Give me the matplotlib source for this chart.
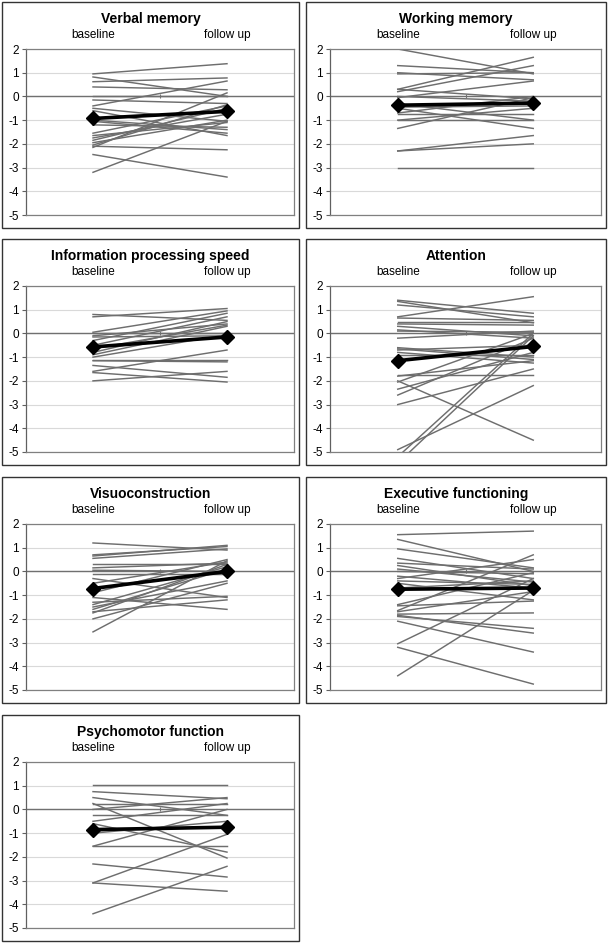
import matplotlib
matplotlib.use("Agg")
import matplotlib.pyplot as plt
from matplotlib.patches import Rectangle

plt.rcParams["font.family"] = ["Liberation Sans", "DejaVu Sans"]
plt.rcParams["axes.unicode_minus"] = False

W, H = 609, 943
categories = ["baseline", "follow up"]
titles = [
    "Verbal memory",
    "Working memory",
    "Information processing speed",
    "Attention",
    "Visuoconstruction",
    "Executive functioning",
    "Psychomotor function",
]

# individual patients: baseline / follow-up z-scores per domain
verbal_base = [0.95, 0.82, 0.62, 0.40, 0.0, -0.15, -0.4, -0.5, -0.6, -1.0, -1.05,
               -1.2, -1.55, -1.65, -1.75, -1.85, -1.95, -2.05, -2.1, -2.15, -2.45, -3.2]
verbal_fu = [1.38, 0.0, 0.78, 0.28, 0.0, -0.3, 0.65, -1.05, -1.65, -1.4, -1.55,
             -1.3, -0.4, -1.1, -0.75, -0.5, -1.0, -0.35, -2.25, 0.15, -3.4, -1.05]

working_base = [2.0, 1.3, 1.0, 0.95, 0.3, 0.3, 0.2, 0.0, -0.05, -0.3, -0.45,
                -0.5, -0.7, -0.75, -1.0, -1.0, -1.35, -2.3, -2.3, -3.0]
working_fu = [0.95, 1.0, 0.7, 1.0, 1.65, -0.1, 1.3, -0.2, 0.65, -1.0, -0.4,
              -1.35, 0.0, -0.75, -1.0, -0.5, -0.05, -1.65, -2.0, -3.0]

speed_base = [0.8, 0.7, 0.05, 0.0, -0.1, -0.15, -0.3, -0.5, -0.65, -0.8, -0.9,
              -1.0, -1.1, -1.15, -1.35, -1.6, -1.65, -2.0]
speed_fu = [0.55, 1.05, 0.95, 0.0, 0.4, -0.1, 0.85, 0.7, 0.35, 0.5, 0.3,
            -0.05, -1.1, -1.2, -1.85, -0.7, -2.05, -1.6]

attention_base = [1.4, 1.35, 1.2, 0.7, 0.65, 0.5, 0.4, 0.3, 0.15, 0.1, -0.2, -0.6, -0.65,
                  -0.7, -0.8, -0.9, -1.75, -1.8, -2.0, -2.05, -2.35, -2.6, -3.0, -4.9, -5.2, -5.47]
attention_fu = [0.85, 0.45, 0.7, 1.55, 0.55, 0.5, 0.35, -0.1, -0.2, 0.05, 0.1, -1.0, -1.1,
                -0.5, -1.25, -0.9, -1.75, -1.15, -4.5, 0.0, -0.8, -0.2, -1.5, -2.2, 0.0, -0.1]

visuo_base = [1.2, 0.7, 0.65, 0.55, 0.3, 0.15, 0.05, -0.1, -0.3, -0.5, -0.9,
              -1.1, -1.3, -1.4, -1.5, -1.6, -1.7, -1.75, -2.0, -2.55]
visuo_fu = [0.9, 1.05, 1.1, 0.95, 0.3, 0.35, 0.0, -0.1, -1.1, 0.4, 0.5,
            -1.6, -1.05, 0.2, -0.4, 0.1, -1.2, 0.3, -0.5, 0.45]

exec_base = [1.55, 1.35, 0.95, 0.55, 0.35, 0.25, 0.1, 0.0, -0.2, -0.3, -0.4, -0.5,
             -0.7, -1.4, -1.45, -1.65, -1.7, -1.8, -1.9, -1.85, -2.1, -3.05, -3.2, -4.4]
exec_fu = [1.7, 0.0, 0.15, -0.3, 0.1, -0.6, -0.45, -0.1, -0.7, 0.5, -0.55, -1.2,
           -0.4, -0.05, -1.25, 0.7, -0.85, -1.75, -2.4, -2.6, -3.4, -0.3, -4.75, -0.8]

psycho_base = [1.05, 0.75, 0.5, 0.25, 0.25, 0.0, -0.25, -0.5, -0.6, -0.9, -1.0,
               -1.55, -1.55, -2.3, -3.1, -3.1, -4.4]
psycho_fu = [1.05, 0.45, -0.25, -2.05, 0.25, 0.5, -0.25, 0.25, -1.8, -0.75, -0.5,
             0.0, -1.55, -2.85, -1.05, -3.45, -2.4]

# group means (thick black line)
mean_base = [-0.93, -0.37, -0.57, -1.15, -0.72, -0.75, -0.85]
mean_fu = [-0.63, -0.28, -0.15, -0.55, 0.0, -0.7, -0.75]

base_sets = [verbal_base, working_base, speed_base, attention_base, visuo_base, exec_base, psycho_base]
fu_sets = [verbal_fu, working_fu, speed_fu, attention_fu, visuo_fu, exec_fu, psycho_fu]

# panel frame origins in pixels (left, top)
frame_x = [2, 306]
frame_w = [297, 300]
frame_y = [2, 239, 477, 715]
frame_h = 226

fig = plt.figure(figsize=(W / 100, H / 100), dpi=100)
fig.patch.set_facecolor("white")


def fx(x):
    return x / W


def fy(y):
    return 1 - y / H


for i, title in enumerate(titles):
    col, row = i % 2, i // 2
    x0, y0, w = frame_x[col], frame_y[row], frame_w[col]
    fig.add_artist(Rectangle((fx(x0), fy(y0 + frame_h)), w / W, frame_h / H,
                             transform=fig.transFigure, fill=False,
                             ec="#333333", lw=1.0))
    fig.text(fx(x0 + w / 2), fy(y0 + 17), title, ha="center", va="center",
             fontsize=10, fontweight="bold")

    left, right = x0 + 24, x0 + w - 5
    top, bottom = y0 + 47, y0 + frame_h - 13
    ax = fig.add_axes([fx(left), fy(bottom), (right - left) / W, (bottom - top) / H])

    xs = [0.5, 1.5]
    for b, f in zip(base_sets[i], fu_sets[i]):
        ax.plot(xs, [b, f], color="#6e6e6e", lw=1.05, zorder=2)
    ax.plot(xs, [mean_base[i], mean_fu[i]], color="black", lw=2.6,
            marker="D", markersize=7.5, zorder=4)

    ax.axhline(0, color="#707070", lw=1.0, zorder=1)
    ax.set_xlim(0, 2)
    ax.set_ylim(-5, 2)
    ax.set_yticks(range(-5, 3))
    ax.grid(axis="y", color="#d9d9d9", lw=0.8, zorder=0)
    ax.set_axisbelow(True)
    for s in ax.spines.values():
        s.set_color("#808080")
        s.set_linewidth(0.9)
    ax.spines["left"].set_color("#606060")
    ax.tick_params(axis="y", length=3, width=0.8, color="#606060",
                   labelsize=8.5, pad=2)
    ax.xaxis.tick_top()
    ax.set_xticks(xs, categories)
    ax.tick_params(axis="x", length=0, labelsize=8.5, pad=6)

    # small category tick on the zero line
    zero_axis = ax.secondary_xaxis(5 / 7)
    zero_axis.set_xticks([1], [""])
    zero_axis.tick_params(length=2.5, width=0.8, color="#707070", direction="inout")
    zero_axis.spines["bottom"].set_visible(False)
    zero_axis.spines["top"].set_visible(False)

fig.savefig("out.png", dpi=100)
